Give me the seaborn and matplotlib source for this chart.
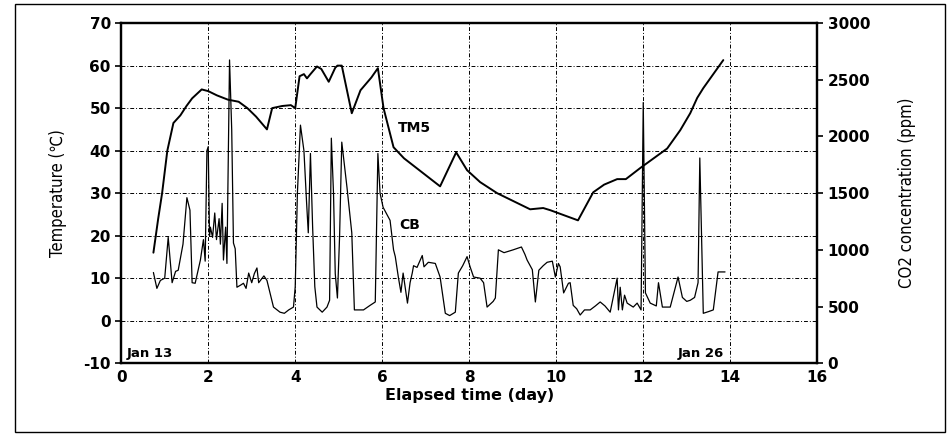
import matplotlib
matplotlib.use("Agg")
import matplotlib.pyplot as plt
import seaborn as sns
from matplotlib.patches import Rectangle

# TM5 temperature (left axis)
tm5_day = [0.74, 0.85, 0.94, 1.06, 1.2, 1.36, 1.5, 1.63, 1.85, 2.0, 2.2, 2.45,
           2.7, 2.9, 3.1, 3.35, 3.47, 3.7, 3.9, 4.0, 4.1, 4.2, 4.27, 4.35, 4.5,
           4.6, 4.77, 4.92, 4.97, 5.07, 5.3, 5.5, 5.75, 5.9, 6.03, 6.26, 6.5,
           7.33, 7.7, 7.95, 8.25, 8.64, 9.4, 9.7, 9.86, 10.5, 10.85, 11.1, 11.4,
           11.6, 11.93, 12.55, 12.85, 13.08, 13.24, 13.38, 13.84]
tm5_temp = [16, 24, 30, 40, 46.5, 48.3, 50.5, 52.3, 54.4, 54, 53, 52,
            51.5, 50, 48, 45, 50, 50.5, 50.7, 50, 57.5, 58, 57, 58, 59.8,
            59.2, 56.2, 59.5, 60, 60, 48.8, 54.2, 57.2, 59.4, 50, 40.8, 38.2,
            31.6, 39.6, 35.4, 32.6, 30, 26.2, 26.5, 26, 23.6, 30.2, 32, 33.3,
            33.3, 35.9, 40.5, 44.8, 48.8, 52.4, 54.7, 61.3]

# CB CO2 concentration (right axis)
cb_day = [0.74, 0.82, 0.9, 1.0, 1.08, 1.17, 1.25, 1.31, 1.42, 1.51, 1.58, 1.63,
          1.7, 1.82, 1.89, 1.93, 1.97, 2.0, 2.03, 2.05, 2.1, 2.15, 2.19, 2.25,
          2.28, 2.32, 2.35, 2.4, 2.43, 2.49, 2.54, 2.58, 2.62, 2.66, 2.75, 2.81,
          2.87, 2.93, 3.0, 3.06, 3.12, 3.16, 3.2, 3.28, 3.35, 3.5, 3.65, 3.75,
          3.85, 3.96, 4.0, 4.05, 4.12, 4.2, 4.26, 4.3, 4.35, 4.4, 4.45, 4.5,
          4.62, 4.73, 4.79, 4.83, 4.88, 4.92, 4.97, 5.02, 5.07, 5.19, 5.3, 5.36,
          5.57, 5.72, 5.84, 5.9, 5.95, 6.02, 6.18, 6.26, 6.3, 6.37, 6.43, 6.48,
          6.58, 6.64, 6.69, 6.72, 6.8, 6.92, 6.96, 7.06, 7.22, 7.33, 7.45, 7.55,
          7.68, 7.75, 7.85, 7.95, 8.02, 8.1, 8.25, 8.33, 8.41, 8.55, 8.6, 8.67,
          8.8, 9.01, 9.2, 9.28, 9.33, 9.45, 9.52, 9.6, 9.7, 9.79, 9.91, 9.98,
          10.05, 10.09, 10.17, 10.28, 10.32, 10.39, 10.47, 10.55, 10.65, 10.78,
          10.9, 11.01, 11.12, 11.24, 11.4, 11.43, 11.47, 11.52, 11.57, 11.63,
          11.77, 11.86, 11.95, 12.0, 12.05, 12.16, 12.3, 12.35, 12.44, 12.62,
          12.8, 12.9, 13.0, 13.08, 13.18, 13.26, 13.3, 13.34, 13.38, 13.5,
          13.61, 13.72, 13.88]
cb_ppm = [800, 660, 730, 750, 1110, 710, 810, 820, 1050, 1460, 1350, 710,
          705, 910, 1090, 900, 1875, 1910, 1125, 1200, 1110, 1325, 1090, 1275,
          1050, 1410, 910, 1200, 880, 2675, 2060, 1060, 1010, 670, 690, 705,
          660, 795, 710, 790, 840, 710, 730, 770, 730, 495, 450, 440,
          470, 495, 675, 1500, 2100, 1875, 1425, 1150, 1850, 1200, 675, 495,
          450, 495, 555, 1985, 1500, 790, 575, 1125, 1950, 1550, 1150, 470,
          470, 510, 540, 1850, 1500, 1375, 1260, 1000, 940, 760, 625, 795,
          530, 710, 795, 860, 845, 950, 850, 890, 880, 760, 440, 420,
          450, 795, 860, 940, 850, 760, 750, 710, 495, 545, 575, 1000,
          975, 1000, 1025, 960, 910, 825, 540, 820, 860, 890, 900, 760,
          880, 850, 620, 705, 710, 510, 480, 425, 470, 470,
          505, 540, 505, 450, 750, 470, 670, 470, 600, 530,
          495, 530, 470, 2300, 620, 530, 505, 710, 495, 495,
          760, 580, 545, 555, 580, 710, 1810, 1125, 440, 455,
          470, 805, 805]

sns.set_style("white")
plt.rcParams['font.family'] = ['DejaVu Sans']
plt.rcParams['axes.unicode_minus'] = False
for k in ['text.color', 'axes.labelcolor', 'xtick.color', 'ytick.color']:
    plt.rcParams[k] = 'black'

fig, ax = plt.subplots(figsize=(9.47, 4.36), dpi=100)
fig.subplots_adjust(left=0.128, right=0.863, top=0.947, bottom=0.167)

sns.lineplot(x=tm5_day, y=tm5_temp, ax=ax, color="black", linewidth=1.4,
             estimator=None, sort=False)
ax.set_xlim(0, 16)
ax.set_ylim(-10, 70)
ax.set_xticks(range(0, 17, 2))
ax.set_yticks(range(-10, 71, 10))
ax.grid(True, color="black", linewidth=0.7, linestyle=(0, (4, 2, 1, 2)))

ax2 = ax.twinx()
sns.lineplot(x=cb_day, y=cb_ppm, ax=ax2, color="black", linewidth=0.9,
             estimator=None, sort=False)
ax2.set_ylim(0, 3000)
ax2.set_yticks(range(0, 3001, 500))
ax2.grid(False)

ax.set_xlabel("Elapsed time (day)", fontsize=11.5, fontweight="bold", labelpad=2)
ax.set_ylabel("Temperature (℃)", fontsize=12, fontstretch="condensed", labelpad=12)
ax2.set_ylabel("CO2 concentration (ppm)", fontsize=12, fontstretch="condensed",
               labelpad=20)

for a in (ax, ax2):
    a.tick_params(labelsize=11, length=4, width=1.2, color="black", direction="out")
    for lab in a.get_xticklabels() + a.get_yticklabels():
        lab.set_fontweight("bold")
    for s in a.spines.values():
        s.set_color("black")
        s.set_linewidth(1.6)
ax.tick_params(axis="x", pad=1)

ax.text(0.12, -9.3, "Jan 13", fontsize=9.5, fontweight="bold", ha="left", va="bottom")
ax.text(13.85, -9.3, "Jan 26", fontsize=9.5, fontweight="bold", ha="right", va="bottom")
ax.text(6.35, 45.3, "TM5", fontsize=10, fontweight="bold", ha="left", va="center")
ax.text(6.4, 22.5, "CB", fontsize=10, fontweight="bold", ha="left", va="center")

fig.patches.append(Rectangle((0.016, 0.009), 0.982, 0.982, transform=fig.transFigure,
                             fill=False, edgecolor="black", linewidth=1.0))

fig.savefig("out.png", dpi=100)
